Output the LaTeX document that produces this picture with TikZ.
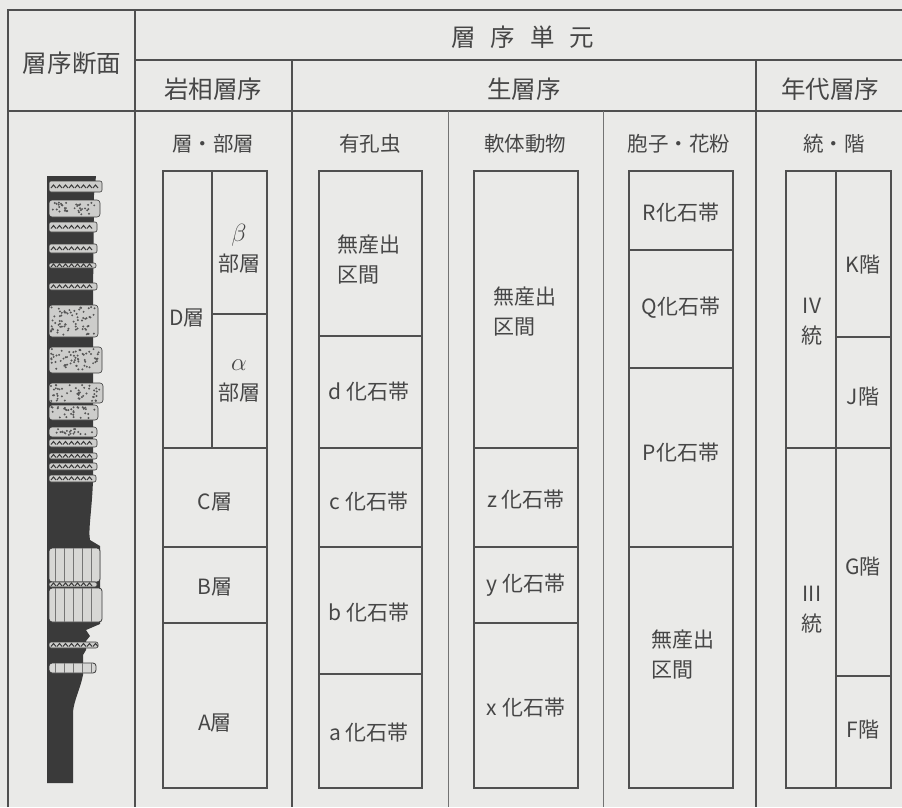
\documentclass[tikz,border=0pt]{standalone}
\usepackage{fontspec}
\setmainfont{Noto Sans CJK JP}
\definecolor{bg}{RGB}{234,234,232}
\definecolor{lc}{RGB}{80,80,80}
\definecolor{tc}{RGB}{70,70,70}
\definecolor{rock}{RGB}{58,58,58}
\definecolor{band}{RGB}{205,205,203}
\tikzset{
  tline/.style={draw=lc, line width=1.4pt},
  thinline/.style={draw=lc!80, line width=0.9pt},
  boxline/.style={draw=lc, line width=1.5pt},
  hdr/.style={text=tc, font=\fontsize{24.5}{28}\selectfont, inner sep=0pt},
  colhd/.style={text=tc, font=\fontsize{20.5}{24}\selectfont, inner sep=0pt},
  lab/.style={text=tc, font=\fontsize{21}{30}\selectfont, inner sep=0pt},
  labl/.style={lab, align=left},
  labc/.style={lab, align=center},
  wavyband/.style={fill=band, draw=rock, line width=0.6pt, rounded corners=2pt},
  spotband/.style={fill=band, draw=rock, line width=0.6pt, rounded corners=3pt},
  vband/.style={fill=band!80!white, draw=rock, line width=0.8pt, rounded corners=3pt},
}
\newcommand{\wavyb}[3]{% y1 y2 xr
  \path[wavyband] (49,#1) rectangle (#3,#2);
  \pgfmathsetmacro{\ym}{(#1+#2)/2}
  \pgfmathsetmacro{\xe}{#3-5}
  \foreach \i in {51,57,...,\xe} {\draw[rock, line width=1pt] (\i,\ym+1.5) -- (\i+2.5,\ym-1.5) -- (\i+5,\ym+1.5);}
}
\newcommand{\spotb}[3]{%
  \path[spotband] (49,#1) rectangle (#3,#2);
  \pgfmathsetmacro{\nd}{int((#3-51)*(#2-#1)/22)}
  \foreach \k in {1,...,\nd} {
    \pgfmathsetmacro{\px}{51+rnd*(#3-54)}
    \pgfmathsetmacro{\py}{#1+2+rnd*(#2-#1-4)}
    \fill[rock!85] (\px,\py) circle (1.1pt);
  }
}
\newcommand{\vertb}[3]{%
  \path[vband] (49,#1) rectangle (#3,#2);
  \pgfmathsetmacro{\xe}{#3-4}
  \foreach \i in {55,64,...,\xe} {\draw[rock!70, line width=0.9pt] (\i,#1) -- (\i,#2);}
}
\begin{document}
\begin{tikzpicture}[x=1pt,y=-1pt]
\pgfmathsetseed{11}
\useasboundingbox (0,0) rectangle (902,807);
\fill[bg] (0,0) rectangle (902,807);

% table grid
\draw[tline] (8,807) -- (8,10) -- (902,10);
\draw[tline] (135,10) -- (135,807);
\draw[tline] (135,60) -- (902,60);
\draw[tline] (8,111) -- (902,111);
\draw[tline] (292,60) -- (292,807);
\draw[tline] (756,60) -- (756,807);
\draw[thinline] (448,111) -- (448,807);
\draw[thinline] (603,111) -- (603,807);

% headers
\node[hdr] (hsec) at (72,63) {層序断面};
\node[hdr] (hunit) at (523,37) {層\kern15pt 序\kern15pt 単\kern15pt 元};
\node[hdr] (hlith) at (213,89) {岩相層序};
\node[hdr] (hbio) at (524,89) {生層序};
\node[hdr] (hchron) at (830,89) {年代層序};

\node[colhd] (c1) at (213,144) {層・部層};
\node[colhd] (c2) at (370,144) {有孔虫};
\node[colhd] (c3) at (525,144) {軟体動物};
\node[colhd] (c4) at (679,144) {胞子・花粉};
\node[colhd] (c5) at (834,144) {統・階};

% column 1: lithostratigraphy
\draw[boxline] (163,171) rectangle (267,788);
\draw[boxline] (212,171) -- (212,448);
\draw[boxline] (212,314) -- (267,314);
\draw[boxline] (163,448) -- (267,448);
\draw[boxline] (163,547) -- (267,547);
\draw[boxline] (163,623) -- (267,623);
\node[lab] (lD) at (187,318) {D層};
\node[labc] (lbeta) at (239,249) {\fontsize{23}{28}\selectfont$\beta$\\部層};
\node[labc] (lalpha) at (239,381) {\fontsize{23}{28}\selectfont$\alpha$\\部層};
\node[lab] (lC) at (215,502) {C層};
\node[lab] (lB) at (215,587) {B層};
\node[lab] (lA) at (215,723) {A層};

% column 2: foraminifera
\draw[boxline] (319,171) rectangle (422,788);
\draw[boxline] (319,336) -- (422,336);
\draw[boxline] (319,448) -- (422,448);
\draw[boxline] (319,547) -- (422,547);
\draw[boxline] (319,674) -- (422,674);
\node[labl] (f0) at (369,260) {無産出\\区間};
\node[lab] (fd) at (369,392) {d 化石帯};
\node[lab] (fc) at (369,502) {c 化石帯};
\node[lab] (fb) at (369,613) {b 化石帯};
\node[lab] (fa) at (369,733) {a 化石帯};

% column 3: mollusca
\draw[boxline] (474,171) rectangle (578,788);
\draw[boxline] (474,448) -- (578,448);
\draw[boxline] (474,547) -- (578,547);
\draw[boxline] (474,623) -- (578,623);
\node[labl] (m0) at (525,312) {無産出\\区間};
\node[lab] (mz) at (526,500) {z 化石帯};
\node[lab] (my) at (526,585) {y 化石帯};
\node[lab] (mx) at (526,708) {x 化石帯};

% column 4: spores & pollen
\draw[boxline] (629,171) rectangle (733,788);
\draw[boxline] (629,250) -- (733,250);
\draw[boxline] (629,368) -- (733,368);
\draw[boxline] (629,547) -- (733,547);
\node[lab] (pR) at (681,213) {R化石帯};
\node[lab] (pQ) at (681,308) {Q化石帯};
\node[lab] (pP) at (681,453) {P化石帯};
\node[labl] (p0) at (683,655) {無産出\\区間};

% column 5: chronostratigraphy
\draw[boxline] (786,171) rectangle (891,788);
\draw[boxline] (836,171) -- (836,788);
\draw[boxline] (836,337) -- (891,337);
\draw[boxline] (786,448) -- (891,448);
\draw[boxline] (836,676) -- (891,676);
\node[labc] (sIV) at (812,322) {IV\\統};
\node[labc] (sIII) at (812,610) {III\\統};
\node[lab] (sK) at (863,265) {K階};
\node[lab] (sJ) at (863,397) {J階};
\node[lab] (sG) at (863,567) {G階};
\node[lab] (sF) at (863,730) {F階};

% stratigraphic section
\fill[rock] (47,176) -- (96,176) -- (94,195) -- (93,300) -- (93,480)
  .. controls (92,510) and (88,530) .. (90,540) -- (100,546) -- (100,624)
  -- (86,630) -- (90,636) -- (86,641) -- (86,650) -- (83,655) -- (83,675)
  .. controls (80,690) and (74,700) .. (73,712) -- (73,783) -- (47,783) -- cycle;
\wavyb{181}{192}{102}
\spotb{200}{217}{100}
\wavyb{222}{232}{97}
\wavyb{244}{253}{97}
\wavyb{263}{268}{96}
\wavyb{283}{290}{97}
\spotb{305}{337}{98}
\spotb{347}{373}{102}
\spotb{383}{403}{103}
\spotb{405}{420}{98}
\spotb{427}{437}{97}
\wavyb{439}{447}{97}
\wavyb{453}{459}{97}
\wavyb{463}{470}{97}
\wavyb{475}{482}{96}
\vertb{548}{582}{100}
\wavyb{582}{587}{97}
\vertb{588}{622}{102}
\wavyb{642}{648}{98}
\vertb{663}{673}{96}
\end{tikzpicture}
\end{document}
